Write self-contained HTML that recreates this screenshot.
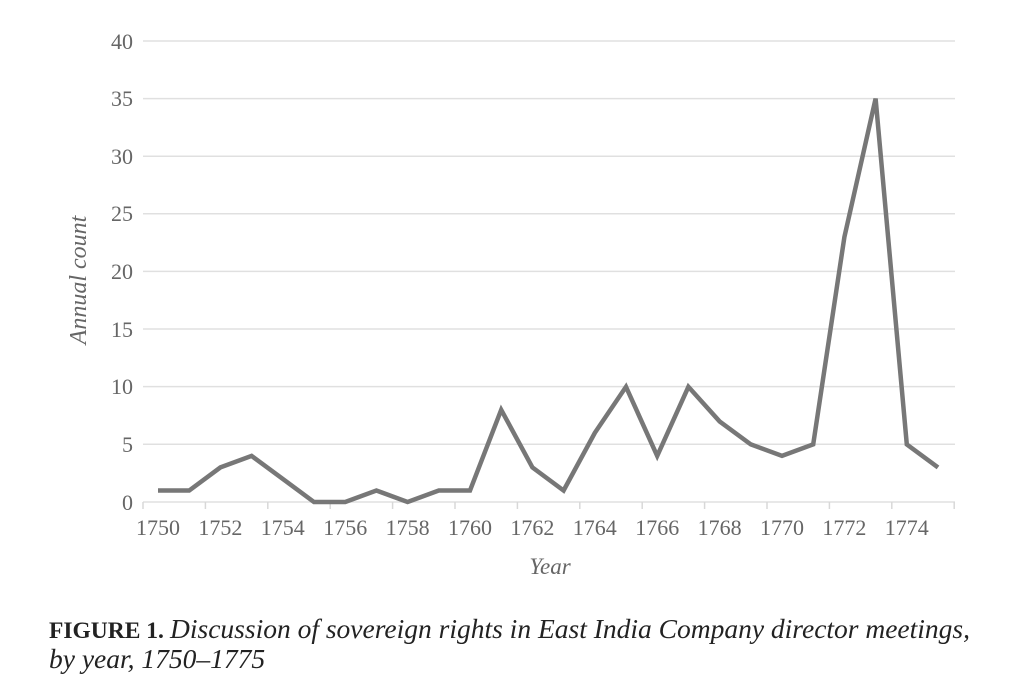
<!DOCTYPE html>
<html><head><meta charset="utf-8"><style>
body{margin:0;background:#fff;width:1024px;height:689px;overflow:hidden}
svg{display:block}
</style></head><body>
<svg width="1024" height="689" xmlns="http://www.w3.org/2000/svg" font-family="Liberation Serif, serif">
<g stroke="#e0e0e0" stroke-width="1.5">
<line x1="143" x2="955" y1="41" y2="41"/><line x1="143" x2="955" y1="98.6" y2="98.6"/>
<line x1="143" x2="955" y1="156.2" y2="156.2"/><line x1="143" x2="955" y1="213.8" y2="213.8"/>
<line x1="143" x2="955" y1="271.4" y2="271.4"/><line x1="143" x2="955" y1="329" y2="329"/>
<line x1="143" x2="955" y1="386.6" y2="386.6"/><line x1="143" x2="955" y1="444.2" y2="444.2"/>
<line x1="143" x2="955" y1="502" y2="502"/>
</g>
<g stroke="#d8d8d8" stroke-width="1.5">
<line x1="143" x2="143" y1="502" y2="509"/><line x1="205.4" x2="205.4" y1="502" y2="509"/>
<line x1="267.8" x2="267.8" y1="502" y2="509"/><line x1="330.2" x2="330.2" y1="502" y2="509"/>
<line x1="392.6" x2="392.6" y1="502" y2="509"/><line x1="455" x2="455" y1="502" y2="509"/>
<line x1="517.4" x2="517.4" y1="502" y2="509"/><line x1="579.8" x2="579.8" y1="502" y2="509"/>
<line x1="642.2" x2="642.2" y1="502" y2="509"/><line x1="704.6" x2="704.6" y1="502" y2="509"/>
<line x1="767" x2="767" y1="502" y2="509"/><line x1="829.4" x2="829.4" y1="502" y2="509"/>
<line x1="891.8" x2="891.8" y1="502" y2="509"/><line x1="954.2" x2="954.2" y1="502" y2="509"/>
</g>
<g fill="#666" font-size="22" text-anchor="end">
<text x="133" y="49">40</text><text x="133" y="106">35</text><text x="133" y="164">30</text>
<text x="133" y="221">25</text><text x="133" y="279">20</text><text x="133" y="337">15</text>
<text x="133" y="394">10</text><text x="133" y="452">5</text><text x="133" y="510">0</text>
</g>
<g fill="#666" font-size="22" text-anchor="middle">
<text x="158" y="535">1750</text><text x="220.4" y="535">1752</text><text x="282.8" y="535">1754</text>
<text x="345.2" y="535">1756</text><text x="407.6" y="535">1758</text><text x="470" y="535">1760</text>
<text x="532.4" y="535">1762</text><text x="594.8" y="535">1764</text><text x="657.2" y="535">1766</text>
<text x="719.6" y="535">1768</text><text x="782" y="535">1770</text><text x="844.4" y="535">1772</text>
<text x="906.8" y="535">1774</text>
</g>
<text x="550" y="574" fill="#666" font-size="23" font-style="italic" text-anchor="middle">Year</text>
<text transform="translate(86,280) rotate(-90)" fill="#666" font-size="24" font-style="italic" text-anchor="middle">Annual count</text>
<polyline fill="none" stroke="#777" stroke-width="4.5" stroke-linejoin="miter" points="
158,490.5 189.2,490.5 220.4,467.4 251.6,455.9 282.8,478.9 314,502 345.2,502 376.4,490.5 407.6,502 438.8,490.5 470,490.5 501.2,409.8 532.4,467.4 563.6,490.5 594.8,432.9 626,386.8 657.2,455.9 688.4,386.8 719.6,421.4 750.8,444.4 782,455.9 813.2,444.4 844.4,237 875.6,98.6 906.8,444.4 938,467.4"/>
<text x="49" y="638" fill="#222" font-weight="bold" font-size="23.5">FIGURE 1.</text>
<text x="170" y="638" fill="#222" font-style="italic" font-size="27.5" textLength="800" lengthAdjust="spacingAndGlyphs">Discussion of sovereign rights in East India Company director meetings,</text>
<text x="49" y="668" font-size="27.5" fill="#222" font-style="italic">by year, 1750–1775</text>
</svg>
</body></html>
